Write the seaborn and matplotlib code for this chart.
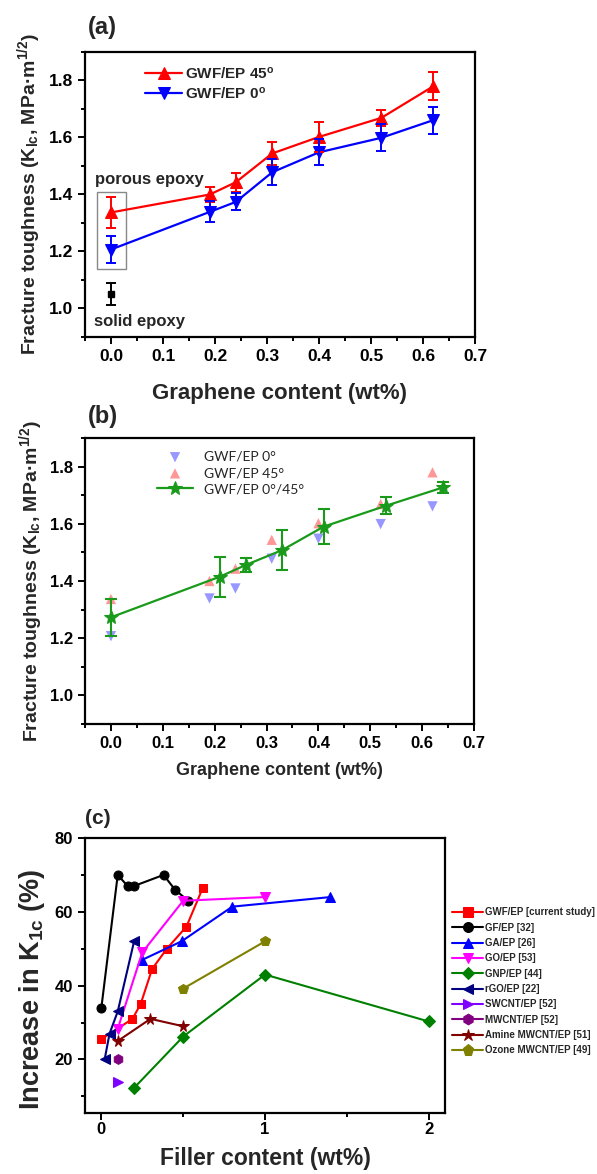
import numpy as np
import pandas as pd
import matplotlib
matplotlib.use("Agg")
import matplotlib.pyplot as plt
from matplotlib.patches import Rectangle
from matplotlib.ticker import MultipleLocator
import seaborn as sns

# ---------------- data ----------------
# panel (a)
a_x = [0.0, 0.19, 0.24, 0.31, 0.40, 0.52, 0.62]
a45_y = [1.337, 1.400, 1.443, 1.544, 1.602, 1.669, 1.780]
a45_err = [0.055, 0.025, 0.033, 0.041, 0.052, 0.028, 0.049]
a0_y = [1.207, 1.339, 1.374, 1.478, 1.548, 1.599, 1.661]
a0_err = [0.047, 0.037, 0.030, 0.045, 0.045, 0.047, 0.047]
solid_x = [0.0]
solid_y = [1.052]
solid_err = [0.038]

# panel (b)
b_x = [0.0, 0.21, 0.26, 0.33, 0.41, 0.53, 0.64]
b_y = [1.273, 1.415, 1.456, 1.508, 1.590, 1.663, 1.727]
b_err = [0.065, 0.070, 0.025, 0.070, 0.062, 0.030, 0.020]

# panel (c)
gwf_x = [0.0, 0.19, 0.24, 0.31, 0.40, 0.52, 0.62]
gwf_y = [25.5, 31, 35, 44.5, 50, 56, 66.5]
gf_x = [0.0, 0.10, 0.16, 0.20, 0.38, 0.45, 0.53]
gf_y = [34, 70, 67, 67, 70, 66, 63]
ga_x = [0.25, 0.49, 0.80, 1.40]
ga_y = [47, 52, 61.4, 64]
go_x = [0.10, 0.25, 0.50, 1.00]
go_y = [28.3, 49, 63, 64]
gnp_x = [0.20, 0.50, 1.00, 2.00]
gnp_y = [12.3, 26.2, 43, 30.3]
rgo_x = [0.02, 0.05, 0.10, 0.20]
rgo_y = [20, 27, 33, 52]
swcnt_x = [0.10]
swcnt_y = [14]
mwcnt_x = [0.10]
mwcnt_y = [20]
amine_x = [0.10, 0.30, 0.50]
amine_y = [25, 31, 29]
ozone_x = [0.50, 1.00]
ozone_y = [39.2, 52]

labels_c = ["GWF/EP [current study]", "GF/EP [32]", "GA/EP [26]", "GO/EP [53]",
            "GNP/EP [44]", "rGO/EP [22]", "SWCNT/EP [52]", "MWCNT/EP [52]",
            "Amine MWCNT/EP [51]", "Ozone MWCNT/EP [49]"]

# ---------------- style ----------------
sns.set_style("ticks")
plt.rcParams['font.family'] = ['Liberation Sans', 'DejaVu Sans']
plt.rcParams['font.weight'] = 'bold'
plt.rcParams['axes.labelweight'] = 'bold'
plt.rcParams['mathtext.default'] = 'regular'
plt.rcParams['axes.linewidth'] = 1.6
plt.rcParams['axes.edgecolor'] = 'black'

W, H = 597, 1174
fig = plt.figure(figsize=(W / 100, H / 100), dpi=100)


def style_axes(ax, tick_fs):
    for s in ax.spines.values():
        s.set_visible(True)
        s.set_linewidth(1.6)
        s.set_color('black')
    ax.tick_params(which='both', direction='out', width=1.4, colors='black',
                   labelsize=tick_fs, top=False, right=False)
    ax.tick_params(which='major', length=5)
    ax.tick_params(which='minor', length=3)
    for lab in ax.get_xticklabels() + ax.get_yticklabels():
        lab.set_fontweight('bold')


ylab_ab = 'Fracture toughness (K$_{lc}$, MPa\u00b7m$^{1/2}$)'

# ================= panel (a) =================
ax1 = fig.add_axes([85 / W, 1 - 337 / H, 390 / W, 285 / H])
sns.lineplot(x=a_x, y=a45_y, ax=ax1, color='#FF0000', marker='^', markersize=8,
             markeredgecolor='#FF0000', linewidth=1.6, label='GWF/EP 45$^{o}$')
sns.lineplot(x=a_x, y=a0_y, ax=ax1, color='#0000FF', marker='v', markersize=8,
             markeredgecolor='#0000FF', linewidth=1.6, label='GWF/EP 0$^{o}$')
ax1.errorbar(a_x, a45_y, yerr=a45_err, fmt='none', ecolor='#FF0000', elinewidth=1.4,
             capsize=3.5, capthick=1.4)
ax1.errorbar(a_x, a0_y, yerr=a0_err, fmt='none', ecolor='#0000FF', elinewidth=1.4,
             capsize=3.5, capthick=1.4)
ax1.errorbar(solid_x, solid_y, yerr=solid_err, fmt='s', color='black', markersize=5,
             elinewidth=1.4, capsize=3.5, capthick=1.4)
ax1.add_patch(Rectangle((-0.0275, 1.14), 0.0565, 0.27, fill=False,
                        edgecolor='#888888', linewidth=1.0))
ax1.text(-0.031, 1.453, 'porous epoxy', fontsize=12, fontweight='bold', va='center', ha='left')
ax1.text(-0.033, 0.955, 'solid epoxy', fontsize=12, fontweight='bold', va='center', ha='left')
ax1.set_xlim(-0.05, 0.7)
ax1.set_ylim(0.9, 1.9)
ax1.xaxis.set_minor_locator(MultipleLocator(0.05))
ax1.yaxis.set_minor_locator(MultipleLocator(0.1))
ax1.set_yticks([1.0, 1.2, 1.4, 1.6, 1.8])
ax1.set_xticks(np.round(np.arange(0, 0.71, 0.1), 1))
ax1.set_xticklabels(['0.0', '0.1', '0.2', '0.3', '0.4', '0.5', '0.6', '0.7'])
style_axes(ax1, 12.5)
ax1.set_xlabel('Graphene content (wt%)', fontsize=16, fontweight='bold', labelpad=14)
ax1.set_ylabel(ylab_ab, fontsize=14, fontweight='bold', labelpad=4)
ax1.legend(loc='upper left', bbox_to_anchor=(0.155, 0.952), frameon=False,
           prop={'family': 'Liberation Sans', 'weight': 'bold', 'size': 11},
           handlelength=2.4, handletextpad=0.2, labelspacing=0.25, borderpad=0,
           borderaxespad=0)
ax1.text(0.008, 1.045, '(a)', transform=ax1.transAxes, fontsize=17, fontweight='bold',
         ha='left', va='bottom')

# ================= panel (b) =================
ax2 = fig.add_axes([85 / W, 1 - 724 / H, 389 / W, 286 / H])
sns.scatterplot(x=a_x, y=a0_y, ax=ax2, marker='v', s=55, color='#7575FF', alpha=0.75,
                edgecolor='none', label='GWF/EP 0°')
sns.scatterplot(x=a_x, y=a45_y, ax=ax2, marker='^', s=55, color='#FF7575', alpha=0.75,
                edgecolor='none', label='GWF/EP 45°')
ax2.errorbar(b_x, b_y, yerr=b_err, fmt='none', ecolor='#1A9A1A', elinewidth=1.5,
             capsize=4, capthick=1.5)
sns.lineplot(x=b_x, y=b_y, ax=ax2, color='#1A9A1A', marker='*', markersize=10,
             markeredgecolor='#1A9A1A', linewidth=1.6, label='GWF/EP 0°/45°')
ax2.set_xlim(-0.05, 0.7)
ax2.set_ylim(0.9, 1.9)
ax2.set_xticks(np.round(np.arange(0, 0.71, 0.1), 1))
ax2.set_xticklabels(['0.0', '0.1', '0.2', '0.3', '0.4', '0.5', '0.6', '0.7'])
ax2.xaxis.set_minor_locator(MultipleLocator(0.05))
ax2.set_yticks([1.0, 1.2, 1.4, 1.6, 1.8])
ax2.yaxis.set_minor_locator(MultipleLocator(0.1))
style_axes(ax2, 12)
ax2.set_xlabel('Graphene content (wt%)', fontsize=13, fontweight='bold', labelpad=8)
ax2.set_ylabel(ylab_ab, fontsize=14, fontweight='bold', labelpad=4)
ax2.legend(loc='upper left', bbox_to_anchor=(0.185, 0.955), frameon=False,
           prop={'family': 'Lato', 'weight': 'normal', 'size': 10},
           handlelength=2.6, handletextpad=0.8, labelspacing=0.3, borderpad=0,
           borderaxespad=0)
ax2.text(0.008, 1.035, '(b)', transform=ax2.transAxes, fontsize=17, fontweight='bold',
         ha='left', va='bottom')

# ================= panel (c) =================
ax3 = fig.add_axes([85 / W, 1 - 1113 / H, 360 / W, 275 / H])
series_c = [
    (gwf_x, gwf_y, '#FF0000', 's', 6),
    (gf_x, gf_y, '#000000', 'o', 6.5),
    (ga_x, ga_y, '#0000FF', '^', 7),
    (go_x, go_y, '#FF00FF', 'v', 7),
    (gnp_x, gnp_y, '#008000', 'D', 6),
    (rgo_x, rgo_y, '#000080', '<', 7),
    (swcnt_x, swcnt_y, '#8000FF', '>', 7),
    (mwcnt_x, mwcnt_y, '#800080', 'h', 7),
    (amine_x, amine_y, '#800000', '*', 8.5),
    (ozone_x, ozone_y, '#808000', 'p', 7.5),
]
for (xs, ys, col, mk, ms), lab in zip(series_c, labels_c):
    sns.lineplot(x=xs, y=ys, ax=ax3, color=col, marker=mk, markersize=ms,
                 markeredgecolor=col, linewidth=1.5, label=lab, sort=False)
ax3.set_xlim(-0.1, 2.1)
ax3.set_ylim(5.5, 80)
ax3.set_xticks([0, 1, 2])
ax3.xaxis.set_minor_locator(MultipleLocator(0.5))
ax3.set_yticks([20, 40, 60, 80])
ax3.yaxis.set_minor_locator(MultipleLocator(10))
style_axes(ax3, 12)
ax3.tick_params(axis='x', pad=1.5)
ax3.set_xlabel('Filler content (wt%)', fontsize=16.5, fontweight='bold')
ax3.xaxis.set_label_coords(0.5, -0.123)
ax3.set_ylabel('Increase in K$_{1c}$ (%)', fontsize=19.5, fontweight='bold')
ax3.yaxis.set_label_coords(-0.105, 0.45)
ax3.legend(loc='upper left', bbox_to_anchor=(1.02, 0.748), frameon=False,
           prop={'family': 'Liberation Sans', 'weight': 'bold', 'size': 7},
           handlelength=3.2, handletextpad=0.2, labelspacing=0.55, borderpad=0,
           borderaxespad=0, markerscale=1.1)
ax3.text(0.0, 1.035, '(c)', transform=ax3.transAxes, fontsize=15, fontweight='bold',
         ha='left', va='bottom')

fig.savefig('out.png', dpi=100)
